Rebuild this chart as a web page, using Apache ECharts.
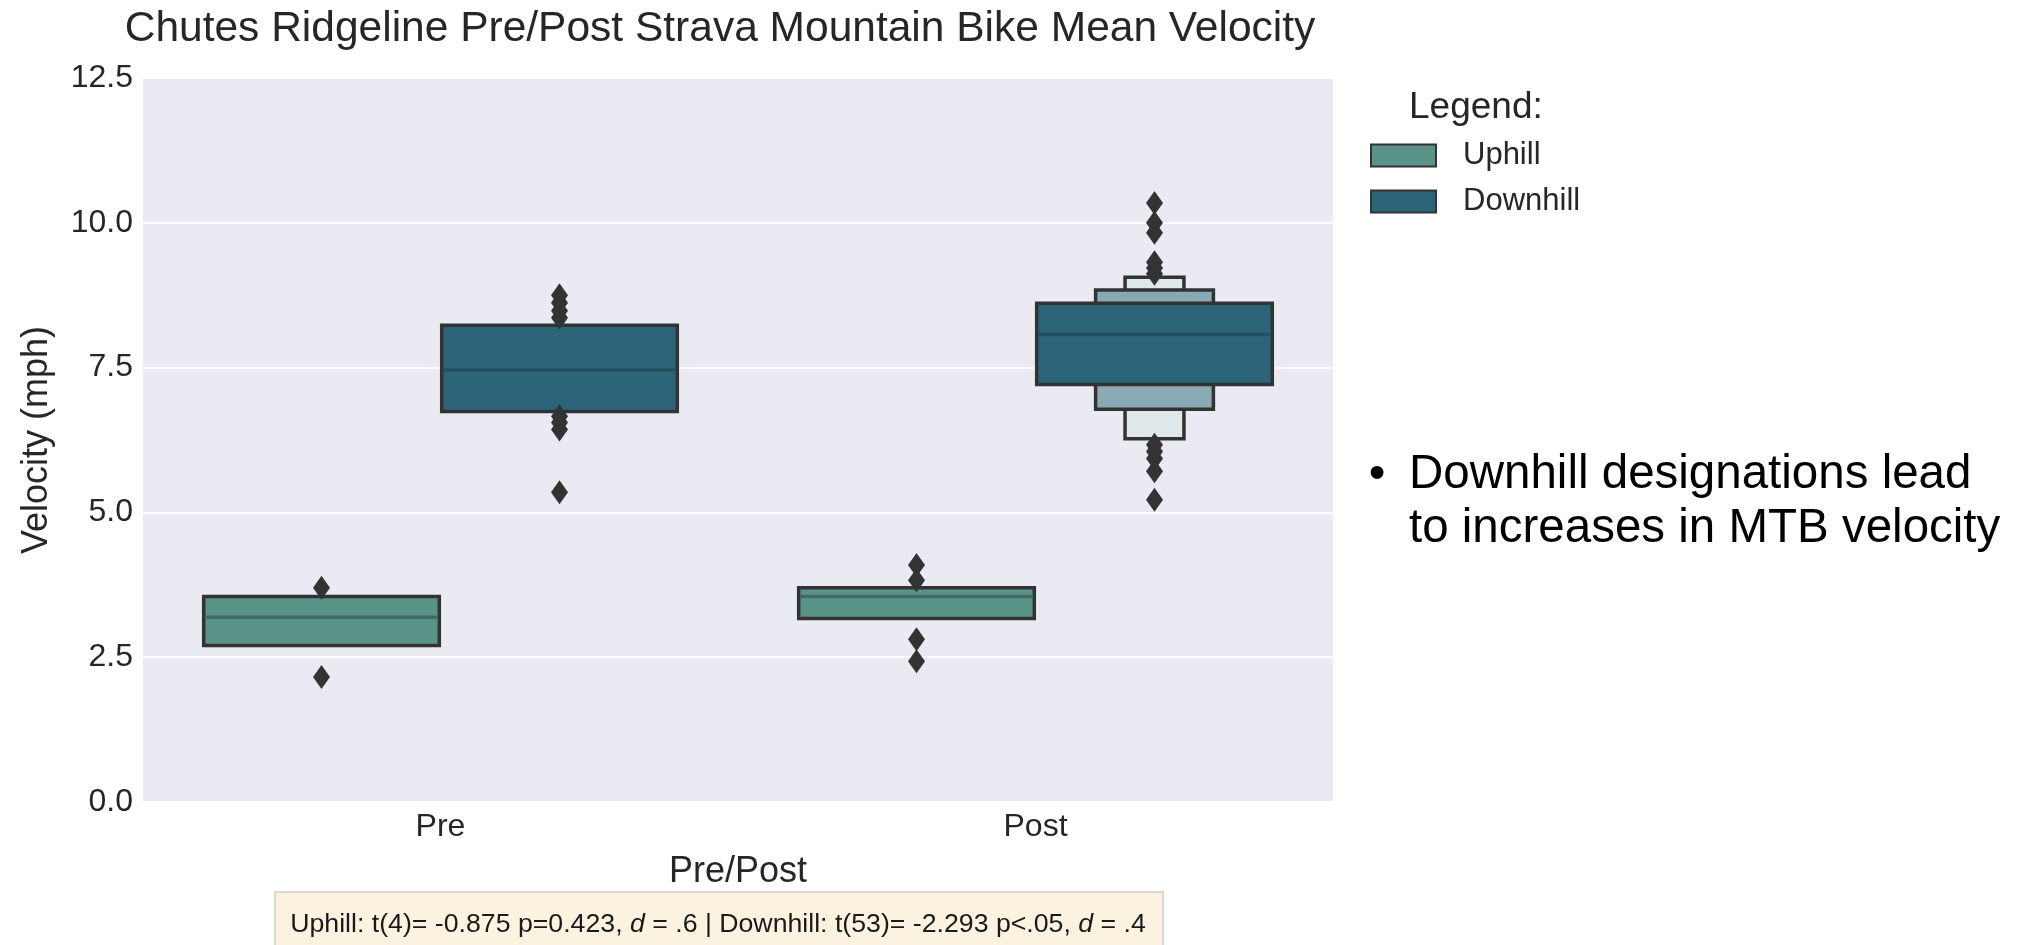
<!doctype html>
<html>
<head>
    <meta charset="utf-8">
    <title>Chutes Ridgeline Pre/Post Strava Mountain Bike Mean Velocity</title>
    <style>
        html, body { margin: 0; padding: 0; background: #fff; }
        #chart { width: 2023px; height: 945px; }
    </style>
</head>
<body>
<div id="chart"></div>
<script src="https://cdn.jsdelivr.net/npm/echarts@6/dist/echarts.min.js"></script>
<script>
    // categories / hues
    var categories = ['Pre', 'Post'];
    var hues = ['Uphill', 'Downhill'];
    var yMin = 0, yMax = 12.5, yStep = 2.5;

    // letter-value boxes: [category index, lower, upper, level] (deeper levels first)
    var uphillBoxes = [[0, 2.70, 3.55, 0], [1, 3.17, 3.70, 0]];
    var uphillMedians = [3.19, 3.55];
    var uphillOutliers = [[0, 3.70], [0, 2.16], [1, 4.09], [1, 3.83], [1, 2.81], [1, 2.43]];

    var downhillBoxes = [[1, 6.27, 9.06, 2], [1, 6.78, 8.84, 1], [0, 6.74, 8.23, 0], [1, 7.21, 8.61, 0]];
    var downhillMedians = [7.46, 8.07];
    var downhillOutliers = [
        [0, 8.75], [0, 8.62], [0, 8.48], [0, 8.36], [0, 6.66], [0, 6.55], [0, 6.43], [0, 5.35],
        [1, 10.34], [1, 10.00], [1, 9.83], [1, 9.32], [1, 9.22], [1, 9.12],
        [1, 6.17], [1, 6.05], [1, 5.93], [1, 5.71], [1, 5.22]
    ];

    var FONT = '"Liberation Sans", Arial, sans-serif';
    var EDGE = '#333333';
    var uphillColors = ['#5a9488'];
    var downhillColors = ['#2c6579', '#89a9b5', '#dfe7ea'];

    // draws one letter-value box (+ median on the main box)
    function boxRenderer(offset, colors, medianColor, medians) {
        return function (params, api) {
            var cat = api.value(0);
            var level = api.value(3);
            var band = api.size([1, 0])[0];
            var cx = api.coord([cat, 0])[0] + offset * band;
            var w = 0.396 * band / Math.pow(2, level);
            var top = api.coord([cat, api.value(2)])[1];
            var bot = api.coord([cat, api.value(1)])[1];
            var children = [{
                type: 'rect',
                shape: {x: cx - w / 2, y: top, width: w, height: bot - top},
                style: {fill: colors[level], stroke: EDGE, lineWidth: 3.5}
            }];
            if (level === 0) {
                var my = api.coord([cat, medians[cat]])[1];
                children.push({
                    type: 'line',
                    shape: {x1: cx - w / 2 + 1.75, y1: my, x2: cx + w / 2 - 1.75, y2: my},
                    style: {stroke: medianColor, lineWidth: 3.5}
                });
            }
            return {type: 'group', children: children};
        };
    }

    // thin diamond outlier markers
    function outlierRenderer(offset) {
        return function (params, api) {
            var cat = api.value(0);
            var band = api.size([1, 0])[0];
            var p = api.coord([cat, api.value(1)]);
            var cx = p[0] + offset * band, cy = p[1];
            return {
                type: 'polygon',
                shape: {points: [[cx, cy - 12], [cx + 8.5, cy], [cx, cy + 12], [cx - 8.5, cy]]},
                style: {fill: EDGE}
            };
        };
    }

    var myChart = echarts.init(document.getElementById('chart'), null, {renderer: 'canvas'});
    var option = {
        animation: false,
        backgroundColor: '#ffffff',
        grid: {
            left: 143, right: 690, top: 78, bottom: 143,
            show: true, backgroundColor: '#eaeaf2', borderWidth: 0,
            containLabel: false, outerBoundsMode: 'none'
        },
        legend: {
            orient: 'vertical',
            left: 1370, top: 140,
            padding: 0,
            itemWidth: 65, itemHeight: 22, itemGap: 15,
            icon: 'rect',
            selectedMode: false,
            textStyle: {fontSize: 31, lineHeight: 31, color: '#262626', fontFamily: FONT, padding: [0, 0, 0, 22]},
            data: [
                {name: hues[0], itemStyle: {color: uphillColors[0], borderColor: EDGE, borderWidth: 2}},
                {name: hues[1], itemStyle: {color: downhillColors[0], borderColor: EDGE, borderWidth: 2}}
            ]
        },
        xAxis: {
            type: 'category',
            data: categories,
            name: 'Pre/Post',
            nameLocation: 'middle',
            nameGap: 52,
            nameTextStyle: {fontSize: 36, color: '#262626', fontFamily: FONT},
            axisLine: {show: false},
            axisTick: {show: false},
            axisLabel: {fontSize: 32, color: '#262626', fontFamily: FONT, margin: 9},
            splitLine: {show: false}
        },
        yAxis: {
            type: 'value',
            min: yMin, max: yMax, interval: yStep,
            name: 'Velocity (mph)',
            nameLocation: 'middle',
            nameGap: 88,
            nameTextStyle: {fontSize: 36, color: '#262626', fontFamily: FONT},
            axisLine: {show: false},
            axisTick: {show: false},
            axisLabel: {
                fontSize: 32, color: '#262626', fontFamily: FONT, margin: 10,
                formatter: function (v) { return v.toFixed(1); }
            },
            splitLine: {show: true, lineStyle: {color: '#ffffff', width: 2}}
        },
        series: [
            {
                name: hues[0], type: 'custom', clip: false, z: 2,
                encode: {x: 0, y: [1, 2]},
                renderItem: boxRenderer(-0.2, uphillColors, '#436b62', uphillMedians),
                data: uphillBoxes
            },
            {
                name: hues[1], type: 'custom', clip: false, z: 2,
                encode: {x: 0, y: [1, 2]},
                renderItem: boxRenderer(0.2, downhillColors, '#244f60', downhillMedians),
                data: downhillBoxes
            },
            {
                name: hues[0], type: 'custom', clip: false, z: 3,
                encode: {x: 0, y: 1},
                renderItem: outlierRenderer(-0.2),
                data: uphillOutliers
            },
            {
                name: hues[1], type: 'custom', clip: false, z: 3,
                encode: {x: 0, y: 1},
                renderItem: outlierRenderer(0.2),
                data: downhillOutliers
            }
        ],
        graphic: [
            {
                type: 'text', x: 720, y: 29,
                style: {
                    text: 'Chutes Ridgeline Pre/Post Strava Mountain Bike Mean Velocity',
                    font: '42.5px ' + FONT, fill: '#262626', align: 'center', verticalAlign: 'middle'
                }
            },
            {
                type: 'text', x: 1409, y: 108,
                style: {text: 'Legend:', font: '37px ' + FONT, fill: '#262626', align: 'left', verticalAlign: 'middle'}
            },
            {
                type: 'text', x: 1377, y: 475,
                style: {text: '\u2022', font: '47.5px ' + FONT, fill: '#000000', align: 'center', verticalAlign: 'middle'}
            },
            {
                type: 'text', x: 1409, y: 448,
                style: {
                    text: 'Downhill designations lead\nto increases in MTB velocity',
                    font: '47.5px ' + FONT, lineHeight: 54, fill: '#000000', align: 'left', verticalAlign: 'top'
                }
            },
            {
                type: 'rect', x: 275, y: 892,
                shape: {width: 888, height: 70},
                style: {fill: '#fcf2e0', stroke: '#dcd8cf', lineWidth: 2}
            },
            {
                type: 'text', x: 718, y: 925,
                style: {
                    text: 'Uphill: t(4)= -0.875 p=0.423, {it|d} = .6 | Downhill: t(53)= -2.293 p<.05, {it|d} = .4',
                    font: '26.7px ' + FONT, fill: '#1a1a1a', align: 'center', verticalAlign: 'middle',
                    rich: {it: {fontStyle: 'italic', fontSize: 26.7, fontFamily: FONT, fill: '#1a1a1a'}}
                }
            }
        ]
    };
    myChart.setOption(option);
</script>
</body>
</html>
